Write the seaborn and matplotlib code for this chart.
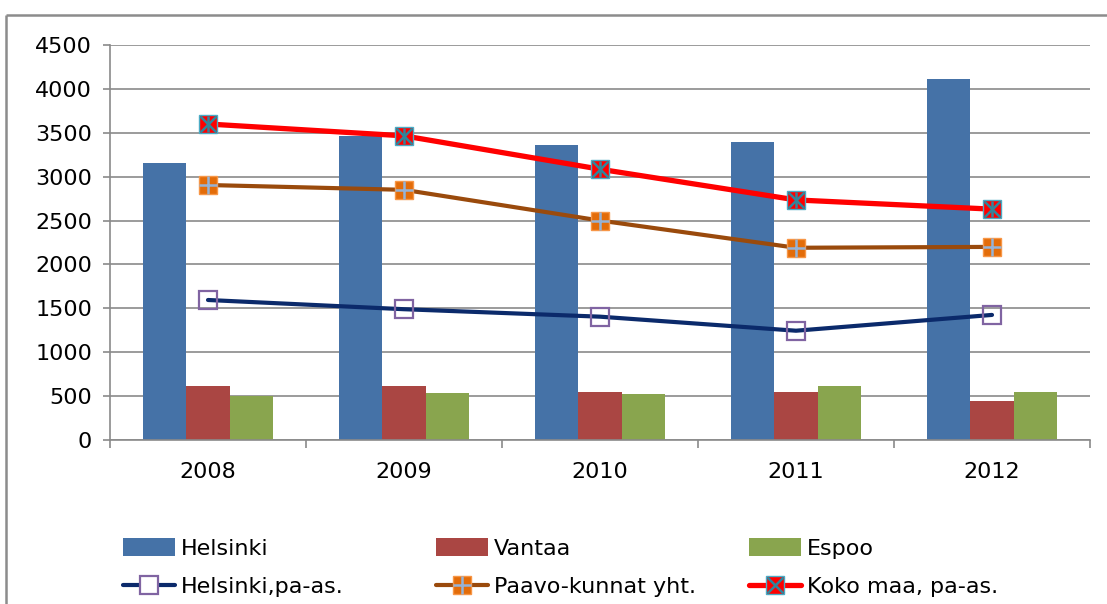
import numpy as np
import pandas as pd
import matplotlib
matplotlib.use('Agg')
import matplotlib.pyplot as plt
import seaborn as sns
from matplotlib.lines import Line2D
from matplotlib.patches import Patch
from matplotlib.legend_handler import HandlerTuple

years = ['2008', '2009', '2010', '2011', '2012']
helsinki = [3150, 3460, 3360, 3400, 4110]
vantaa = [615, 615, 550, 550, 450]
espoo = [500, 540, 520, 620, 550]
helsinki_pa = [1595, 1490, 1405, 1245, 1425]
paavo = [2905, 2850, 2500, 2190, 2200]
koko = [3600, 3465, 3085, 2735, 2630]
bar_names = ['Helsinki', 'Vantaa', 'Espoo']
line_names = ['Helsinki,pa-as.', 'Paavo-kunnat yht.', 'Koko maa, pa-as.']
yticks = [0, 500, 1000, 1500, 2000, 2500, 3000, 3500, 4000, 4500]

bar_colors = ['#4572A7', '#AA4643', '#89A54E']
c_navy, c_brown, c_red = '#0B2A6B', '#9A4A0C', '#FF0000'

sns.set_theme(style='white')
plt.rcParams['font.family'] = ['DejaVu Sans']
plt.rcParams['text.color'] = 'black'
FS = 16

fig = plt.figure(figsize=(11.07, 6.04), dpi=100)
W, H = 1107, 604
ax = fig.add_axes([110 / W, 1 - 440 / H, 980 / W, 395 / H])

df = pd.DataFrame({'year': years * 3,
                   'value': helsinki + vantaa + espoo,
                   'city': np.repeat(bar_names, len(years))})
sns.barplot(data=df, x='year', y='value', hue='city', hue_order=bar_names,
            palette=bar_colors, width=0.667, saturation=1, errorbar=None,
            linewidth=0, legend=False, ax=ax, zorder=2)

xpos = np.arange(len(years))
sns.lineplot(x=xpos, y=helsinki_pa, color=c_navy, lw=3.0, ax=ax, zorder=3,
             marker='s', ms=13, mfc='none', mec='#8064A2', mew=1.6)
sns.lineplot(x=xpos, y=paavo, color=c_brown, lw=3.0, ax=ax, zorder=3,
             marker='s', ms=13, mfc='#E36C09', mec='#F79646', mew=1)
ax.plot(xpos, paavo, ls='none', marker='+', ms=13, mec='#95B3D7', mew=1.8, zorder=4)
sns.lineplot(x=xpos, y=koko, color=c_red, lw=3.8, ax=ax, zorder=3,
             marker='s', ms=13, mfc=c_red, mec='#4BACC6', mew=1)
ax.plot(xpos, koko, ls='none', marker='x', ms=12, mec='#31859C', mew=1.8, zorder=4)
ax.plot(xpos, koko, ls='none', marker='|', ms=12, mec='#31859C', mew=1.8, zorder=4)

ax.set_xlim(-0.5, len(years) - 0.5)
ax.set_ylim(0, 4500)
ax.set_yticks(yticks)
ax.set_yticklabels([str(v) for v in yticks])
ax.set_xlabel('')
ax.set_ylabel('')
ax.grid(axis='y', color='#8A8A8A', lw=1.2, zorder=0)
ax.set_axisbelow(True)
for s in ['top', 'right']:
    ax.spines[s].set_visible(False)
for s in ['left', 'bottom']:
    ax.spines[s].set_color('#8A8A8A')
    ax.spines[s].set_linewidth(1.2)
ax.tick_params(axis='y', direction='out', length=5, width=1.2, color='#8A8A8A',
               labelsize=FS, pad=8, labelcolor='black', left=True)
ax.set_xticks(np.arange(-0.5, len(years), 1.0), minor=True)
ax.tick_params(axis='x', which='minor', direction='out', length=6, width=1.2,
               color='#8A8A8A', bottom=True)
ax.tick_params(axis='x', which='major', length=0, labelsize=FS, pad=16,
               labelcolor='black')

# outer frame (top and left edges only visible)
fig.add_artist(Line2D([6 / W, 1.1], [1 - 15 / H, 1 - 15 / H],
                      transform=fig.transFigure, color='#8C8C8C', lw=1.8,
                      solid_capstyle='butt'))
fig.add_artist(Line2D([6 / W, 6 / W], [1 - 15 / H, -0.1],
                      transform=fig.transFigure, color='#8C8C8C', lw=1.8,
                      solid_capstyle='butt'))

# legends (three columns)
bar_handles = [Patch(facecolor=c, edgecolor='none') for c in bar_colors]
h_pa = Line2D([], [], color=c_navy, lw=3.0, marker='s', ms=13, mfc='white',
              mec='#8064A2', mew=1.6)
h_paavo = (Line2D([], [], color=c_brown, lw=3.0, marker='s', ms=13,
                  mfc='#E36C09', mec='#F79646'),
           Line2D([], [], ls='none', marker='+', ms=13, mec='#95B3D7', mew=1.8))
h_koko = (Line2D([], [], color=c_red, lw=3.8, marker='s', ms=13, mfc=c_red,
                 mec='#4BACC6'),
          Line2D([], [], ls='none', marker='x', ms=12, mec='#31859C', mew=1.8))
line_handles = [h_pa, h_paavo, h_koko]
col_x = [123, 436, 749]
for i in range(3):
    fig.legend([bar_handles[i], line_handles[i]], [bar_names[i], line_names[i]],
               loc='upper left', bbox_to_anchor=(col_x[i] / W, 1 - 538 / H),
               frameon=False, fontsize=FS, borderpad=0, borderaxespad=0,
               handlelength=2.35, handleheight=0.9, handletextpad=0.25,
               labelspacing=0.78, labelcolor='black',
               handler_map={tuple: HandlerTuple(ndivide=1, pad=0)})

fig.savefig('out.png', dpi=100)
